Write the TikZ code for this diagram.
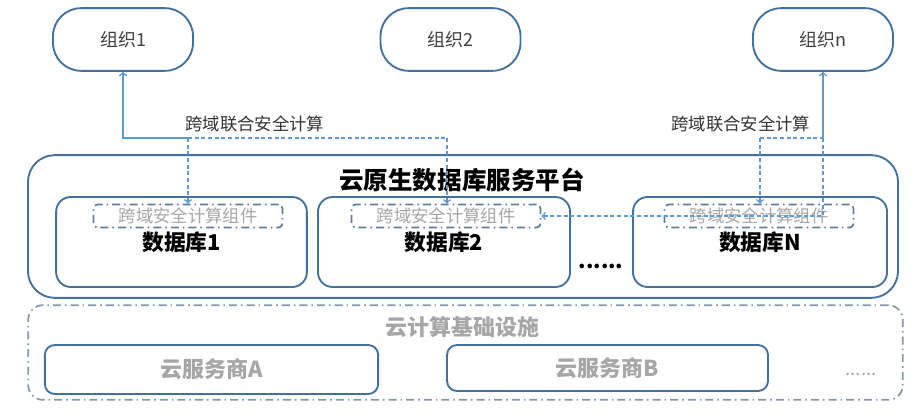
\documentclass[tikz,border=0pt]{standalone}
\usepackage{fontspec}
\setmainfont{Noto Sans CJK SC}
\usepackage{tikz}
\usetikzlibrary{shapes,arrows,positioning}

\definecolor{boxblue}{HTML}{41719C}
\definecolor{flowblue}{HTML}{5B9BD5}
\definecolor{softgray}{HTML}{A6A6A6}
\definecolor{dotblue}{HTML}{5E7C9C}
\definecolor{dotgray}{HTML}{8497AC}

\tikzset{
    orgbox/.style={draw=boxblue, line width=1.4pt, rounded corners=21pt,
        minimum width=105pt, minimum height=47pt, text=black!75,
        font=\fontsize{13.5}{16}\selectfont},
    dbbox/.style={draw=boxblue, line width=1.4pt, rounded corners=11pt,
        minimum height=67.5pt, font=\bfseries\fontsize{16.3}{19}\selectfont},
    compbox/.style={draw=dotblue, line width=1.3pt, rounded corners=3pt,
        dash pattern=on 6pt off 3pt on 1.2pt off 3pt, inner sep=0pt,
        minimum width=141.75pt, minimum height=17.25pt, text=softgray,
        font=\fontsize{13}{15}\selectfont},
    vendorbox/.style={draw=boxblue, line width=1.4pt, rounded corners=7.5pt,
        text=softgray, font=\bfseries\fontsize{16.5}{19}\selectfont},
    flow/.style={flowblue, line width=1.2pt},
    flowdash/.style={flow, dash pattern=on 3pt off 2pt},
}

\begin{document}
\begin{tikzpicture}[x=0.75pt, y=-0.75pt]
    \useasboundingbox (0,0) rectangle (923,420);

    % 组织
    \node[orgbox] (org1) at (123,39.5) {组织1};
    \node[orgbox] (org2) at (450.5,39.5) {组织2};
    \node[orgbox] (orgn) at (823,39.5) {组织n};

    % 云原生数据库服务平台
    \node[draw=boxblue, line width=1.4pt, rounded corners=20pt,
        minimum width=652.5pt, minimum height=107pt] (platform) at (463,226.5) {};
    \node[font=\bfseries\fontsize{18.4}{22}\selectfont] (ptitle) at (462,180) {云原生数据库服务平台};
    \foreach \n/\x/\w/\cx in {1/181.5/188pt/188, 2/444/189pt/446, N/760/190.5pt/759} {
        \node[dbbox, minimum width=\w] (db\n) at (\x,242) {数据库\n};
        \node[compbox] (comp\n) at (\cx,216) {跨域安全计算组件};
    }
    \node[font=\bfseries\fontsize{16}{19}\selectfont] (dots1) at (601,266) {......};

    % 跨域联合安全计算
    \coordinate (jl1) at (188,138);
    \coordinate (jl2) at (447,138);
    \coordinate (jr1) at (760,138);
    \coordinate (jr2) at (823,138);
    \node[anchor=south west, inner sep=1pt, text=black!80,
        font=\fontsize{13}{15}\selectfont] (lab1) at (184,134) {跨域联合安全计算};
    \node[anchor=south west, inner sep=1pt, text=black!80,
        font=\fontsize{13}{15}\selectfont] (labn) at (670,134) {跨域联合安全计算};
    \draw[flowdash] (jl1) -- (jl2);
    \draw[flowdash, ->] (jl1) -- (jl1 |- comp1.north);
    \draw[flowdash, ->] (jl2) -- (jl2 |- comp2.north);
    \draw[flow, ->] (jl1) -| (org1.south);
    \draw[flowdash] (jr1) -- (jr2);
    \draw[flowdash, ->] (jr1) -- (jr1 |- compN.north);
    \draw[flow, ->] (jr2) -- (orgn.south);
    \draw[flowdash, ->] (jr2) |- (comp2.east);

    % 云计算基础设施
    \node[draw=dotgray, line width=1.3pt, rounded corners=11pt,
        dash pattern=on 6pt off 3pt on 1.2pt off 3pt,
        minimum width=656pt, minimum height=71pt] (infra) at (465.5,352.5) {};
    \node[text=softgray, font=\bfseries\fontsize{16.5}{19}\selectfont] (infratitle) at (462,327) {云计算基础设施};
    \node[vendorbox, minimum width=250pt, minimum height=36.75pt] (cloudA) at (211.5,369.5) {云服务商A};
    \node[vendorbox, minimum width=240.75pt, minimum height=34.5pt] (cloudB) at (607.5,368) {云服务商B};
    \node[text=softgray, font=\fontsize{14}{16}\selectfont] (dots2) at (861,374) {......};
\end{tikzpicture}
\end{document}
